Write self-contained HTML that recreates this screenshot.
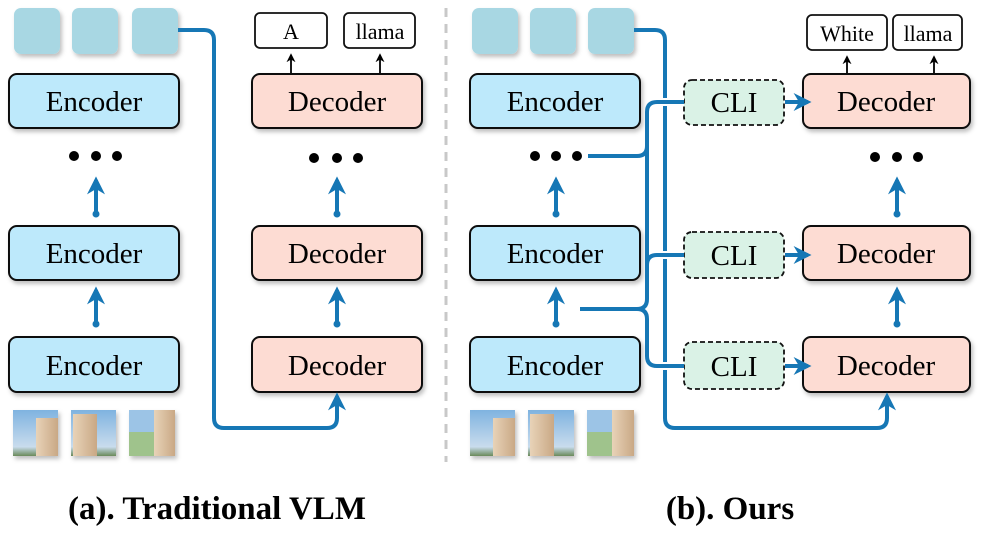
<!DOCTYPE html>
<html><head><meta charset="utf-8"><style>
html,body{margin:0;padding:0;background:#fff}
svg{display:block}
text{font-family:"Liberation Serif",serif}
</style></head><body>
<svg width="997" height="547" viewBox="0 0 997 547" xmlns="http://www.w3.org/2000/svg">
<defs>
<filter id="sh" x="-10%" y="-10%" width="130%" height="140%"><feDropShadow dx="2" dy="3" stdDeviation="2" flood-color="#000" flood-opacity="0.25"/></filter>
<marker id="ah" viewBox="0 0 10 10" refX="8" refY="5" markerWidth="4.5" markerHeight="4.5" orient="auto"><path d="M0,0 L10,5 L0,10 L3,5 z" fill="#1677b5"/></marker>
<marker id="bk" viewBox="0 0 10 10" refX="8" refY="5" markerWidth="5" markerHeight="5" orient="auto"><path d="M0,0 L10,5 L0,10 L3,5 z" fill="#000"/></marker>
<linearGradient id="im1" x1="0" y1="0" x2="0" y2="1"><stop offset="0" stop-color="#7fb3e0"/><stop offset="0.8" stop-color="#c9dced"/><stop offset="1" stop-color="#6b8a5a"/></linearGradient>
<linearGradient id="ll" x1="0" y1="0" x2="1" y2="0"><stop offset="0" stop-color="#e8d3b8"/><stop offset="1" stop-color="#c9a885"/></linearGradient>
</defs>

<line x1="446" y1="8" x2="446" y2="462" stroke="#c8c8c8" stroke-width="3" stroke-dasharray="9,7"/>

<g filter="url(#sh)" fill="#a8d7e3">
<rect x="14" y="8" width="46" height="46" rx="7"/><rect x="72" y="8" width="46" height="46" rx="7"/><rect x="132" y="8" width="46" height="46" rx="7"/>
<rect x="472" y="8" width="46" height="46" rx="7"/><rect x="530" y="8" width="46" height="46" rx="7"/><rect x="588" y="8" width="46" height="46" rx="7"/>
</g>

<g filter="url(#sh)" stroke="#111" stroke-width="2">
<rect x="9" y="74" width="170" height="54" rx="8" fill="#bde9fb"/>
<rect x="9" y="226" width="170" height="54" rx="8" fill="#bde9fb"/>
<rect x="9" y="337" width="170" height="55" rx="8" fill="#bde9fb"/>
<rect x="252" y="74" width="170" height="54" rx="8" fill="#fddcd3"/>
<rect x="252" y="226" width="170" height="54" rx="8" fill="#fddcd3"/>
<rect x="252" y="337" width="170" height="55" rx="8" fill="#fddcd3"/>
<rect x="470" y="74" width="170" height="54" rx="8" fill="#bde9fb"/>
<rect x="470" y="226" width="170" height="54" rx="8" fill="#bde9fb"/>
<rect x="470" y="337" width="170" height="55" rx="8" fill="#bde9fb"/>
<rect x="803" y="74" width="167" height="54" rx="8" fill="#fddcd3"/>
<rect x="803" y="226" width="167" height="54" rx="8" fill="#fddcd3"/>
<rect x="803" y="337" width="167" height="55" rx="8" fill="#fddcd3"/>
</g>
<g stroke="#111" stroke-width="1.8" fill="#daf2e6" stroke-dasharray="5,3">
<rect x="684" y="80" width="100" height="45" rx="8"/>
<rect x="684" y="232" width="100" height="46" rx="8"/>
<rect x="684" y="342" width="100" height="47" rx="8"/>
</g>

<g font-size="29" text-anchor="middle" fill="#000">
<text x="94" y="111">Encoder</text><text x="94" y="263">Encoder</text><text x="94" y="375">Encoder</text>
<text x="337" y="111">Decoder</text><text x="337" y="263">Decoder</text><text x="337" y="375">Decoder</text>
<text x="555" y="111">Encoder</text><text x="555" y="263">Encoder</text><text x="555" y="375">Encoder</text>
<text x="886" y="111">Decoder</text><text x="886" y="263">Decoder</text><text x="886" y="375">Decoder</text>
<text x="734" y="112">CLI</text><text x="734" y="265">CLI</text><text x="734" y="376">CLI</text>
</g>

<g stroke="#111" stroke-width="1.8" fill="#fff">
<rect x="255" y="13" width="72" height="35" rx="5"/><rect x="344" y="13" width="71" height="35" rx="5"/>
<rect x="807" y="15" width="80" height="35" rx="5"/><rect x="893" y="15" width="69" height="35" rx="5"/>
</g>
<g font-size="22" text-anchor="middle">
<text x="291" y="39">A</text><text x="380" y="39">llama</text>
<text x="847" y="41">White</text><text x="928" y="41">llama</text>
</g>
<g stroke="#000" stroke-width="1.8" marker-end="url(#bk)">
<line x1="291" y1="73" x2="291" y2="55"/><line x1="380" y1="73" x2="380" y2="55"/>
<line x1="847" y1="73" x2="847" y2="57"/><line x1="934" y1="73" x2="934" y2="57"/>
</g>

<g fill="#000">
<circle cx="74" cy="156" r="5"/><circle cx="96" cy="156" r="5"/><circle cx="117" cy="156" r="5"/>
<circle cx="314" cy="158" r="5"/><circle cx="337" cy="158" r="5"/><circle cx="358" cy="158" r="5"/>
<circle cx="535" cy="156" r="5"/><circle cx="556" cy="156" r="5"/><circle cx="577" cy="156" r="5"/>
<circle cx="875" cy="157" r="5"/><circle cx="897" cy="157" r="5"/><circle cx="918" cy="157" r="5"/>
</g>

<g stroke="#1677b5" stroke-width="4" fill="none" marker-end="url(#ah)">
<line x1="96" y1="214" x2="96" y2="180"/><line x1="96" y1="324" x2="96" y2="290"/>
<line x1="337" y1="214" x2="337" y2="180"/><line x1="337" y1="324" x2="337" y2="290"/>
<line x1="556" y1="214" x2="556" y2="180"/><line x1="556" y1="324" x2="556" y2="290"/>
<line x1="897" y1="214" x2="897" y2="180"/><line x1="897" y1="324" x2="897" y2="290"/>
<line x1="785" y1="102" x2="808" y2="102"/><line x1="785" y1="255" x2="808" y2="255"/><line x1="785" y1="366" x2="808" y2="366"/>
<path d="M178,30 H204 Q214,30 214,40 V418 Q214,428 224,428 H327 Q337,428 337,418 V396"/>
<path d="M634,30 H655 Q665,30 665,40 V418 Q665,428 675,428 H877 Q887,428 887,418 V396"/>
</g>
<g fill="#1677b5">
<circle cx="96" cy="214" r="3.5"/><circle cx="96" cy="324" r="3.5"/>
<circle cx="337" cy="214" r="3.5"/><circle cx="337" cy="324" r="3.5"/>
<circle cx="556" cy="214" r="3.5"/><circle cx="556" cy="324" r="3.5"/>
<circle cx="897" cy="214" r="3.5"/><circle cx="897" cy="324" r="3.5"/>
</g>

<g stroke="#fff" stroke-width="8" fill="none">
<line x1="652" y1="102" x2="684" y2="102"/><line x1="652" y1="255" x2="684" y2="255"/><line x1="652" y1="366" x2="684" y2="366"/>
</g>
<g stroke="#1677b5" stroke-width="4" fill="none">
<path d="M588,156 H637 Q647,156 647,146 V112 Q647,102 657,102 H684"/>
<path d="M580,309 H637 Q647,309 647,299 V265 Q647,255 657,255 H684"/>
<path d="M637,309 Q647,309 647,319 V356 Q647,366 657,366 H684"/>
<path d="M647,146 V299"/>
</g>

<g filter="url(#sh)">
<g><rect x="13" y="410" width="45" height="46" fill="url(#im1)"/><rect x="36" y="418" width="22" height="38" fill="url(#ll)"/></g>
<g><rect x="71" y="410" width="45" height="46" fill="url(#im1)"/><rect x="73" y="414" width="24" height="42" fill="url(#ll)"/></g>
<g><rect x="129" y="410" width="46" height="46" fill="#9fc38c"/><rect x="129" y="410" width="46" height="22" fill="#9cc4e6"/><rect x="154" y="410" width="21" height="46" fill="url(#ll)"/></g>
<g><rect x="470" y="410" width="45" height="46" fill="url(#im1)"/><rect x="493" y="418" width="22" height="38" fill="url(#ll)"/></g>
<g><rect x="528" y="410" width="46" height="46" fill="url(#im1)"/><rect x="530" y="414" width="24" height="42" fill="url(#ll)"/></g>
<g><rect x="587" y="410" width="47" height="46" fill="#9fc38c"/><rect x="587" y="410" width="47" height="22" fill="#9cc4e6"/><rect x="612" y="410" width="22" height="46" fill="url(#ll)"/></g>
</g>

<g font-size="33" font-weight="bold" text-anchor="middle">
<text x="217" y="519">(a). Traditional VLM</text>
<text x="730" y="519">(b). Ours</text>
</g>
</svg>
</body></html>
